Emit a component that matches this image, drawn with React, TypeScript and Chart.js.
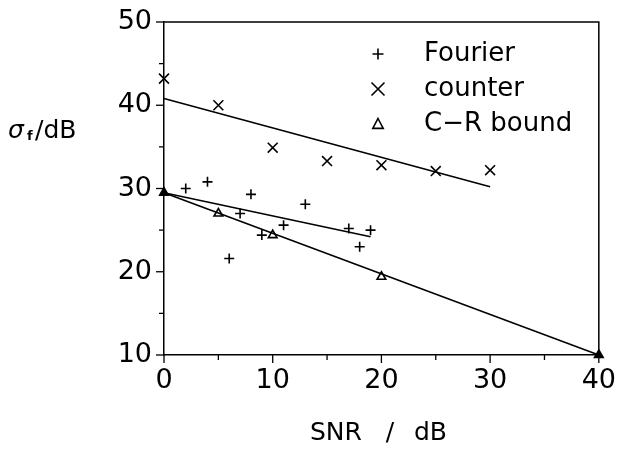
import React, { useEffect, useRef } from "react";
import { Chart, registerables } from "chart.js";

Chart.register(...registerables);

// ---- data ----
const fourierX = [2, 4, 6, 7, 8, 9, 11, 13, 17, 18, 19];
const fourierY = [30.0, 30.8, 21.6, 27.0, 29.3, 24.4, 25.6, 28.1, 25.2, 23.0, 25.0];
const counterX = [0, 5, 10, 15, 20, 25, 30];
const counterY = [43.2, 40.0, 34.9, 33.3, 32.8, 32.1, 32.2];
const crX = [0, 5, 10, 20, 40];
const crY = [29.5, 27.0, 24.4, 19.4, 10.0];
const fourierFitX = [0, 19];
const fourierFitY = [29.5, 24.2];
const counterFitX = [0, 30];
const counterFitY = [40.8, 30.2];
const crFitX = [0, 40];
const crFitY = [29.5, 10.0];
const xTicks = [0, 10, 20, 30, 40];
const yTicks = [10, 20, 30, 40, 50];
const legendLabels = ["Fourier", "counter", "C\u2212R bound"];

const FONT = "'DejaVu Sans', 'Liberation Sans', sans-serif";

const pts = (xs: number[], ys: number[]) => xs.map((x, i) => ({ x, y: ys[i] }));

function drawMarker(ctx: CanvasRenderingContext2D, kind: string, x: number, y: number, r: number) {
  ctx.beginPath();
  if (kind === "cross") {
    ctx.moveTo(x - r, y); ctx.lineTo(x + r, y);
    ctx.moveTo(x, y - r); ctx.lineTo(x, y + r);
    ctx.stroke();
  } else if (kind === "crossRot") {
    ctx.moveTo(x - r, y - r); ctx.lineTo(x + r, y + r);
    ctx.moveTo(x - r, y + r); ctx.lineTo(x + r, y - r);
    ctx.stroke();
  } else {
    ctx.moveTo(x, y - r);
    ctx.lineTo(x + r * 0.95, y + r * 0.8);
    ctx.lineTo(x - r * 0.95, y + r * 0.8);
    ctx.closePath();
    ctx.fillStyle = "#fff";
    ctx.fill();
    ctx.stroke();
  }
}

const decorPlugin = {
  id: "decor",
  afterDraw(chart: any) {
    const ctx = chart.ctx as CanvasRenderingContext2D;
    const { left, right, top, bottom } = chart.chartArea;
    const xs = chart.scales.x;
    const ys = chart.scales.y;
    ctx.save();
    ctx.strokeStyle = "#000";
    ctx.lineWidth = 1.5;
    // frame top and right
    ctx.beginPath();
    ctx.moveTo(left, top); ctx.lineTo(right, top); ctx.lineTo(right, bottom);
    ctx.stroke();
    // ticks
    ctx.lineWidth = 1.3;
    for (let v = 0; v <= 40; v += 5) {
      const px = xs.getPixelForValue(v);
      const len = v % 10 === 0 ? 8 : 5;
      ctx.beginPath(); ctx.moveTo(px, bottom); ctx.lineTo(px, bottom + len); ctx.stroke();
    }
    for (let v = 10; v <= 50; v += 5) {
      const py = ys.getPixelForValue(v);
      const len = v % 10 === 0 ? 8 : 5;
      ctx.beginPath(); ctx.moveTo(left, py); ctx.lineTo(left - len, py); ctx.stroke();
    }
    // legend
    const kinds = ["cross", "crossRot", "triangle"];
    const sizes = [5.5, 6.5, 5.5];
    const lx = 378;
    const ly = [54, 89, 124];
    ctx.fillStyle = "#000";
    ctx.font = `26px ${FONT}`;
    ctx.textBaseline = "middle";
    ctx.textAlign = "left";
    kinds.forEach((k, i) => {
      ctx.lineWidth = 1.6;
      drawMarker(ctx, k, lx, ly[i], sizes[i]);
      ctx.fillStyle = "#000";
      ctx.fillText(legendLabels[i], 424, ly[i]);
    });
    // x axis title
    ctx.font = `25px ${FONT}`;
    ctx.textBaseline = "middle";
    ctx.textAlign = "left";
    ctx.fillText("SNR", 310, 433);
    ctx.textAlign = "center";
    ctx.fillText("/", 390, 433);
    ctx.textAlign = "left";
    ctx.fillText("dB", 414, 433);
    // y axis title
    ctx.textAlign = "left";
    ctx.font = `italic 25px ${FONT}`;
    ctx.fillText("\u03C3", 8, 131);
    ctx.font = `bold 13px ${FONT}`;
    ctx.fillText("f", 27, 137);
    ctx.font = `25px ${FONT}`;
    ctx.fillText("/dB", 35, 131);
    ctx.restore();
  },
};

export default function App() {
  const ref = useRef<HTMLCanvasElement | null>(null);
  useEffect(() => {
    document.body.style.margin = "0";
    if (!ref.current) return;
    const lineDs = (data: any) => ({
      type: "line" as const,
      data,
      borderColor: "#000",
      borderWidth: 1.6,
      pointRadius: 0,
      fill: false,
      tension: 0,
      clip: false as any,
    });
    const chart = new Chart(ref.current, {
      type: "scatter",
      data: {
        datasets: [
          lineDs(pts(crFitX, crFitY)),
          lineDs(pts(fourierFitX, fourierFitY)),
          lineDs(pts(counterFitX, counterFitY)),
          {
            data: pts(fourierX, fourierY),
            pointStyle: "cross",
            pointRadius: 5,
            borderColor: "#000",
            pointBorderWidth: 1.6,
            clip: false as any,
          },
          {
            data: pts(counterX, counterY),
            pointStyle: "crossRot",
            pointRadius: 7,
            borderColor: "#000",
            pointBorderWidth: 1.6,
            clip: false as any,
          },
          {
            data: pts(crX, crY),
            pointStyle: "triangle",
            pointRadius: 5,
            borderColor: "#000",
            pointBackgroundColor: crX.map((_, i) => (i === 0 || i === crX.length - 1 ? "#000" : "#fff")),
            pointBorderWidth: 1.6,
            clip: false as any,
          },
        ] as any,
      },
      options: {
        animation: false,
        responsive: false,
        devicePixelRatio: 1,
        layout: { padding: { left: 0, top: 22, right: 19, bottom: 0 } },
        plugins: { legend: { display: false }, tooltip: { enabled: false } },
        scales: {
          x: {
            type: "linear",
            min: 0,
            max: 40,
            afterBuildTicks: (s: any) => { s.ticks = xTicks.map((v) => ({ value: v })); },
            afterFit: (s: any) => { s.height = 97; },
            ticks: { color: "#000", font: { family: FONT, size: 27 }, padding: 2, maxRotation: 0, autoSkip: false },
            grid: { display: true, drawOnChartArea: false, drawTicks: true, tickLength: 8, color: "rgba(0,0,0,0)" },
            border: { display: true, color: "#000", width: 1.5 },
          },
          y: {
            type: "linear",
            min: 10,
            max: 50,
            afterBuildTicks: (s: any) => { s.ticks = yTicks.map((v) => ({ value: v })); },
            afterFit: (s: any) => { s.width = 164; },
            ticks: { color: "#000", font: { family: FONT, size: 27 }, padding: 4, autoSkip: false },
            grid: { display: true, drawOnChartArea: false, drawTicks: true, tickLength: 8, color: "rgba(0,0,0,0)" },
            border: { display: true, color: "#000", width: 1.5 },
          },
        },
      },
      plugins: [decorPlugin],
    } as any);
    return () => chart.destroy();
  }, []);
  return (
    <div style={{ width: 618, height: 452 }}>
      <canvas ref={ref} width={618} height={452} style={{ display: "block" }} />
    </div>
  );
}
